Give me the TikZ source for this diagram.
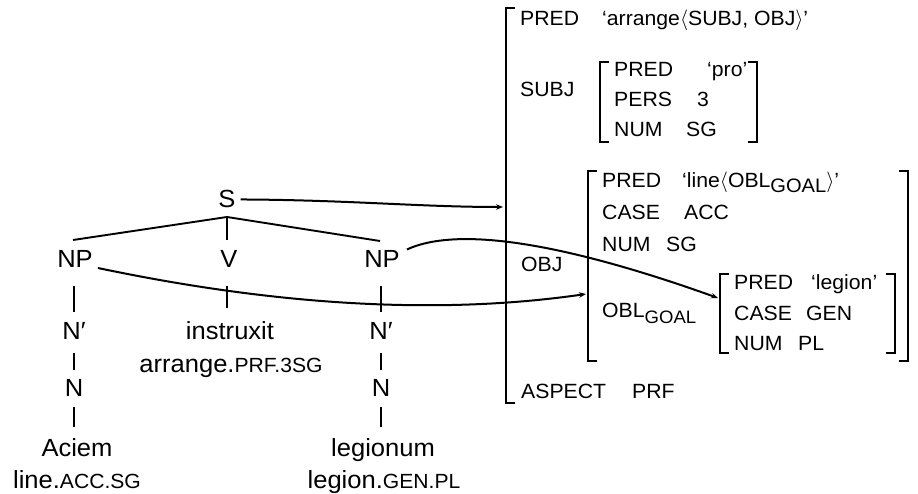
\documentclass[tikz,border=0pt]{standalone}
\usepackage{fontspec}
\setmainfont{Liberation Sans}[FakeStretch=1.03]
\usetikzlibrary{arrows.meta}
\newcommand{\tfont}{\fontsize{24.8}{28}\selectfont}
\newcommand{\ffont}{\fontsize{20.6}{24}\selectfont}
\newcommand{\tsc}[1]{{\fontsize{20.5}{24}\selectfont #1}}
\newcommand{\fsub}[2]{\raisebox{-#1}{\fontsize{#2}{18}\selectfont GOAL}}
\begin{document}
\begin{tikzpicture}[x=1pt,y=-1pt,
  tn/.style={font=\tfont, anchor=base, inner sep=0pt},
  fa/.style={font=\ffont, anchor=base west, inner sep=0pt},
  br/.style={line width=1.9pt},
  tl/.style={line width=1.9pt},
  lk/.style={line width=2pt, -{Stealth[length=7pt,width=5.5pt]}}]
\useasboundingbox (0,0) rectangle (918,494);

% ---- tree ----
\node[tn] (S) at (227,208) {S};
\node[tn] (NPa) at (75,268) {NP};
\node[tn] (V) at (229,268) {V};
\node[tn] (NPb) at (382,268) {NP};
\node[tn] (Nba) at (74,339) {N′};
\node[tn] (Na) at (74,396) {N};
\node[tn] (Aciem) at (77,456) {Aciem};
\node[tn] (gla) at (77,488) {line.\tsc{ACC.SG}};
\node[tn] (instr) at (230,339) {instruxit};
\node[tn] (glv) at (231,372) {arrange.\tsc{PRF.3SG}};
\node[tn] (Nbb) at (381,339) {N′};
\node[tn] (Nb) at (381,396) {N};
\node[tn] (legionum) at (383,456) {legionum};
\node[tn] (glb) at (384,488) {legion.\tsc{GEN.PL}};

\draw[tl] ([yshift=-9pt]S.base) -- ([xshift=-2pt,yshift=28pt]NPa.base);
\draw[tl] ([yshift=-9pt]S.base) -- ([xshift=-2pt,yshift=28pt]V.base);
\draw[tl] ([yshift=-9pt]S.base) -- ([xshift=-2pt,yshift=27pt]NPb.base);

\draw[tl] ([yshift=-18pt]Nba.base |- NPa.base) -- ([yshift=27pt]Nba.base);
\draw[tl] ([yshift=-14pt]Nba.base) -- ([yshift=26pt]Na.base);
\draw[tl] ([yshift=-11pt]Na.base) -- ([yshift=29pt]Na.base |- Aciem.base);
\draw[tl] ([xshift=-2pt,yshift=-18pt]V.base) -- ([xshift=-2pt,yshift=31pt]V.base |- instr.base);
\draw[tl] ([yshift=-18pt]Nbb.base |- NPb.base) -- ([yshift=27pt]Nbb.base);
\draw[tl] ([yshift=-14pt]Nbb.base) -- ([yshift=26pt]Nb.base);
\draw[tl] ([yshift=-11pt]Nb.base) -- ([yshift=29pt]Nb.base |- legionum.base);

% ---- f-structure brackets ----
\draw[br] (515,8) -- (506,8) -- (506,403) -- (515,403);
\draw[br] (609,62) -- (600,62) -- (600,142) -- (609,142);
\draw[br] (748,62) -- (757,62) -- (757,142) -- (748,142);
\draw[br] (597,171) -- (588,171) -- (588,361) -- (597,361);
\draw[br] (899,171) -- (908,171) -- (908,361) -- (899,361);
\draw[br] (729,274) -- (720,274) -- (720,353) -- (729,353);
\draw[br] (886,274) -- (895,274) -- (895,353) -- (886,353);

% ---- f-structure text ----
\node[fa] (oPred) at (520,26) {PRED};
\node[fa] (oPredV) at (602,26) {‘arrange$\langle$SUBJ, OBJ$\rangle$’};
\node[fa] (oSubj) at (520,97) {SUBJ};
\node[fa] (sPred) at (614,77) {PRED};
\node[fa] (sPredV) at (707,77) {‘pro’};
\node[fa] (sPers) at (614,107) {PERS};
\node[fa] (sPersV) at (697,107) {3};
\node[fa] (sNum) at (614,137) {NUM};
\node[fa] (sNumV) at (686,137) {SG};
\node[fa] (jPred) at (602,188) {PRED};
\node[fa] (jPredV) at (682,188) {‘line$\langle$OBL\fsub{5pt}{19.5}$\rangle$’};
\node[fa] (jCase) at (602,220) {CASE};
\node[fa] (jCaseV) at (684,220) {ACC};
\node[fa] (jNum) at (602,252) {NUM};
\node[fa] (jNumV) at (666,252) {SG};
\node[fa] (oObj) at (521,272) {OBJ};
\node[fa] (jObl) at (602,317) {OBL\fsub{6pt}{18}};
\node[fa] (lPred) at (734,290) {PRED};
\node[fa] (lPredV) at (811,290) {‘legion’};
\node[fa] (lCase) at (734,320) {CASE};
\node[fa] (lCaseV) at (806,320) {GEN};
\node[fa] (lNum) at (734,350) {NUM};
\node[fa] (lNumV) at (798,350) {PL};
\node[fa] (oAsp) at (521,398) {ASPECT};
\node[fa] (oAspV) at (632,398) {PRF};

% ---- links ----
\coordinate (tOuter) at (503,207);
\coordinate (tObj) at (586,294);
\coordinate (tObl) at (718,298);
\draw[lk] ([xshift=5pt]S.east) .. controls (350,200) and (420,207) .. (tOuter);
\draw[lk] ([xshift=5pt]NPa.base east) .. controls (250,300) and (420,318) .. (tObj);
\draw[lk] ([xshift=7pt,yshift=10pt]NPb.east) .. controls (460,225) and (570,245) .. (tObl);
\end{tikzpicture}
\end{document}
